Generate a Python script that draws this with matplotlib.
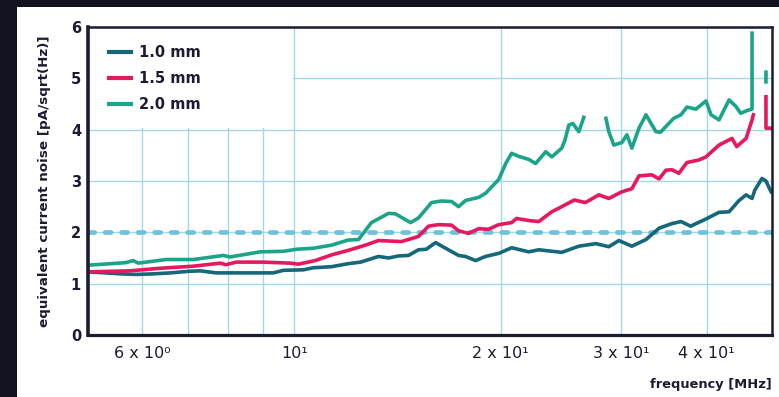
import numpy as np
import matplotlib
matplotlib.use("Agg")
import matplotlib.pyplot as plt
from matplotlib.patches import Rectangle
import matplotlib.transforms as mtransforms

# frequency [MHz] / noise [pA/sqrt(Hz)]
freq_10 = [5.0, 5.3, 5.6, 5.87, 6.2, 6.6, 7.0, 7.29, 7.69, 8.5, 9.32, 9.64,
           10.31, 10.66, 11.33, 11.99, 12.5, 13.27, 13.73, 14.19, 14.68, 15.18,
           15.58, 16.08, 16.63, 17.37, 17.78, 18.39, 19.02, 19.88, 20.76, 21.99,
           22.74, 24.57, 26.02, 27.55, 28.78, 29.77, 31.10, 32.61, 34.07, 35.57,
           36.68, 37.88, 39.89, 41.68, 43.11, 44.58, 45.65, 46.57, 47.0, 48.15,
           48.8, 49.64]
noise_10 = [1.23, 1.21, 1.19, 1.18, 1.19, 1.21, 1.24, 1.25, 1.21, 1.21, 1.21, 1.26,
            1.27, 1.31, 1.33, 1.39, 1.42, 1.53, 1.50, 1.54, 1.55, 1.66,
            1.67, 1.80, 1.69, 1.55, 1.53, 1.45, 1.53, 1.59, 1.70, 1.62,
            1.66, 1.61, 1.73, 1.78, 1.72, 1.84, 1.73, 1.86, 2.08, 2.17,
            2.21, 2.12, 2.26, 2.39, 2.40, 2.62, 2.73, 2.66, 2.82, 3.05,
            3.00, 2.79]

freq_15 = [5.0, 5.76, 6.37, 7.12, 7.80, 7.95, 8.23, 9.0, 9.87, 10.14, 10.73,
           11.33, 12.0, 12.70, 13.27, 14.34, 15.18, 15.70, 16.24, 16.97, 17.37,
           17.96, 18.58, 19.21, 19.88, 20.76, 21.11, 21.99, 22.74, 23.76, 24.57,
           25.63, 26.60, 27.83, 28.78, 30.07, 31.10, 31.85, 33.27, 34.07, 34.86,
           35.57, 36.42, 37.42, 38.96, 39.89, 41.68, 43.54, 44.23, 45.65, 46.57,
           46.78, 47.5, 48.8, 48.8, 49.64]
noise_15 = [1.23, 1.25, 1.30, 1.34, 1.40, 1.37, 1.42, 1.42, 1.40, 1.38, 1.45,
            1.56, 1.65, 1.75, 1.84, 1.82, 1.92, 2.12, 2.15, 2.14, 2.03,
            1.98, 2.07, 2.06, 2.15, 2.19, 2.27, 2.23, 2.21, 2.40, 2.50,
            2.63, 2.58, 2.73, 2.66, 2.79, 2.85, 3.10, 3.12, 3.04, 3.21,
            3.22, 3.15, 3.36, 3.41, 3.47, 3.70, 3.83, 3.67, 3.83, 4.19,
            4.29, np.nan, 4.64, 4.03, 4.03]

freq_20 = [5.0, 5.68, 5.82, 5.92, 6.5, 7.12, 7.88, 8.06, 8.92, 9.64, 10.07,
           10.66, 11.33, 11.99, 12.41, 12.96, 13.73, 14.05, 14.78, 15.18, 15.86,
           16.40, 16.97, 17.37, 17.78, 18.58, 19.02, 19.88, 20.35, 20.76, 21.26,
           22.0, 22.5, 23.28, 23.76, 24.57, 24.84, 25.16, 25.50, 26.02, 26.46,
           27.5, 28.50, 28.78, 29.27, 30.07, 30.58, 31.10, 31.85, 32.61, 33.72,
           34.23, 34.86, 35.78, 36.68, 37.42, 38.57, 39.89, 40.57, 41.68, 43.11,
           44.13, 44.81, 45.97, 46.57, 46.57, 47.5, 48.8, 48.8]
noise_20 = [1.36, 1.41, 1.45, 1.40, 1.47, 1.47, 1.55, 1.52, 1.62, 1.63, 1.67,
            1.69, 1.75, 1.85, 1.86, 2.19, 2.37, 2.36, 2.19, 2.28, 2.58,
            2.61, 2.60, 2.50, 2.62, 2.68, 2.76, 3.03, 3.34, 3.54, 3.48,
            3.42, 3.34, 3.57, 3.47, 3.64, 3.80, 4.09, 4.12, 3.96, 4.24,
            np.nan, 4.22, 3.96, 3.70, 3.75, 3.90, 3.64, 4.03, 4.29, 3.96,
            3.95, 4.06, 4.22, 4.29, 4.44, 4.40, 4.56, 4.29, 4.19, 4.58,
            4.45, 4.32, 4.38, 4.40, 5.88, np.nan, 5.12, 4.93]

labels = ["1.0 mm", "1.5 mm", "2.0 mm"]
colors = ["#15687a", "#e6185f", "#1aa58b"]
limit = 2.0

xtick_pos = [6, 7, 8, 9, 10, 20, 30, 40]
xtick_lab = ["6 x 10\u2070", "", "", "", "10\u00b9", "2 x 10\u00b9",
             "3 x 10\u00b9", "4 x 10\u00b9"]

ink = "#1b1b33"
grid_c = "#a3d8e7"

plt.rcParams["font.family"] = ["DejaVu Sans"]

fig = plt.figure(figsize=(7.79, 3.97), dpi=100)
fig.patch.set_facecolor("#111320")
# white card behind the chart
fig.patches.append(Rectangle((17 / 779, 0), 1, 1 - 7 / 397, transform=fig.transFigure,
                             facecolor="white", edgecolor="none", zorder=-5))

ax = fig.add_axes([88 / 779, 62 / 397, 684 / 779, 308 / 397])
ax.set_facecolor("white")
ax.set_xscale("log")
ax.set_xlim(5, 49.8)
ax.set_ylim(0, 6)
ax.set_axisbelow(True)

ax.set_xticks(xtick_pos)
ax.set_xticklabels(xtick_lab)
ax.xaxis.set_minor_locator(matplotlib.ticker.NullLocator())
ax.set_yticks(range(0, 7))
ax.tick_params(axis="both", length=0)
ax.tick_params(axis="x", pad=8, labelsize=11.5, labelcolor=ink)
ax.tick_params(axis="y", pad=5, labelsize=10.5, labelcolor=ink)
for t in ax.get_yticklabels():
    t.set_fontweight("bold")

ax.grid(True, color=grid_c, lw=1.0)

# blank patch under the legend hides the grid there
trans = mtransforms.blended_transform_factory(ax.transData, ax.transData)
ax.add_patch(Rectangle((5, 4.03), 9.95 - 5, 2, transform=trans,
                       facecolor="white", edgecolor="none", zorder=1))

ax.axhline(limit, color="#6ec3da", lw=3.4, linestyle=(0, (1.3, 2.2)),
           dash_capstyle="round", zorder=1.5)

for f, n, lab, c in zip([freq_10, freq_15, freq_20], [noise_10, noise_15, noise_20],
                        labels, colors):
    ax.plot(f, n, color=c, lw=2.6, label=lab, zorder=2, solid_joinstyle="round")

for side, w in [("left", 2.6), ("bottom", 2.3), ("top", 1.8), ("right", 1.8)]:
    ax.spines[side].set_color(ink)
    ax.spines[side].set_linewidth(w)

leg = ax.legend(loc="upper left", bbox_to_anchor=(0.012, 0.985), frameon=False,
                handlelength=1.5, handletextpad=0.55, labelspacing=0.75,
                prop={"size": 10.5, "weight": "bold"})
for t in leg.get_texts():
    t.set_color(ink)
for h in leg.get_lines():
    h.set_linewidth(3)

ax.set_ylabel("equivalent current noise [pA/sqrt(Hz)]", fontsize=9.7,
              fontweight="bold", color=ink)
ax.yaxis.set_label_coords(-0.054, 0.5)
ax.set_xlabel("frequency [MHz]", fontsize=9.4, fontweight="bold", color=ink,
              loc="right")
ax.xaxis.set_label_coords(1.0, -0.14)

fig.savefig("out.png", dpi=100, facecolor=fig.get_facecolor())
